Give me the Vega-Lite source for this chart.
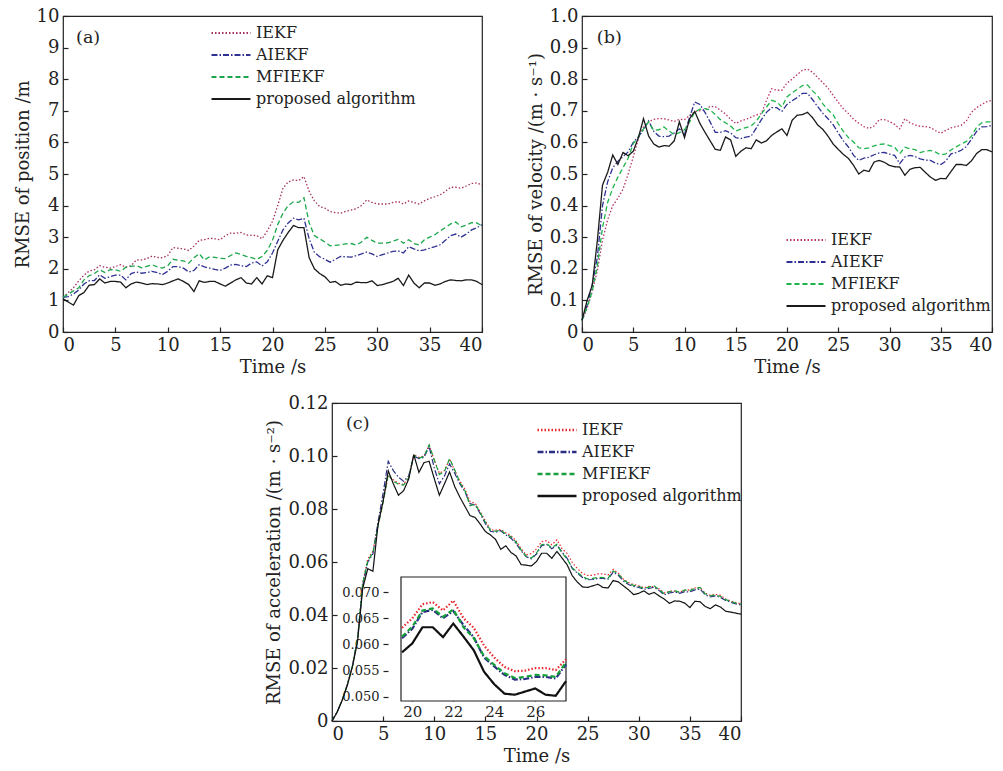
{
  "$schema": "https://vega.github.io/schema/vega-lite/v6.json",
  "background": "white",
  "padding": {"left": 13, "top": 6, "right": 0, "bottom": 0},
  "config": {
    "font": "DejaVu Serif",
    "view": {"stroke": "#222222", "strokeWidth": 1.2},
    "axis": {"grid": false, "domain": false, "labelFont": "DejaVu Serif", "labelFontSize": 18, "labelColor": "#222222", "titleFont": "DejaVu Serif", "titleFontSize": 18, "titleFontWeight": "normal", "titleColor": "#222222", "tickColor": "#222222", "tickSize": -5, "tickWidth": 1.2, "labelPadding": 9, "titlePadding": 4},
    "legend": {"labelFont": "DejaVu Serif", "labelFontSize": 16, "labelColor": "#222222", "symbolType": "M-1,0H5", "symbolSize": 169, "symbolStrokeWidth": 1.8, "labelOffset": 30, "padding": 0, "rowPadding": 6, "labelLimit": 300}
  },
  "datasets": {
    "posA": [
      {"t":0,"IEKF":1.1,"AIEKF":1.1,"MFIEKF":1.1,"PA":1.05},
      {"t":0.5,"IEKF":1.25,"AIEKF":1.12,"MFIEKF":1.2,"PA":0.95},
      {"t":1,"IEKF":1.4,"AIEKF":1.2,"MFIEKF":1.3,"PA":0.85},
      {"t":1.5,"IEKF":1.62,"AIEKF":1.33,"MFIEKF":1.4,"PA":1.15},
      {"t":2,"IEKF":1.8,"AIEKF":1.52,"MFIEKF":1.65,"PA":1.25},
      {"t":2.5,"IEKF":1.93,"AIEKF":1.62,"MFIEKF":1.78,"PA":1.48},
      {"t":3,"IEKF":1.97,"AIEKF":1.63,"MFIEKF":1.85,"PA":1.5},
      {"t":3.5,"IEKF":2.1,"AIEKF":1.81,"MFIEKF":1.97,"PA":1.68},
      {"t":4,"IEKF":2.05,"AIEKF":1.7,"MFIEKF":1.88,"PA":1.55},
      {"t":4.5,"IEKF":2.02,"AIEKF":1.75,"MFIEKF":1.97,"PA":1.6},
      {"t":5,"IEKF":2.07,"AIEKF":1.8,"MFIEKF":1.97,"PA":1.6},
      {"t":5.5,"IEKF":2.13,"AIEKF":1.8,"MFIEKF":1.92,"PA":1.58},
      {"t":6,"IEKF":2.05,"AIEKF":1.65,"MFIEKF":2.05,"PA":1.4},
      {"t":6.5,"IEKF":2.1,"AIEKF":1.85,"MFIEKF":2.08,"PA":1.52},
      {"t":7,"IEKF":2.28,"AIEKF":1.9,"MFIEKF":2.1,"PA":1.58},
      {"t":7.5,"IEKF":2.28,"AIEKF":1.86,"MFIEKF":2.03,"PA":1.55},
      {"t":8,"IEKF":2.32,"AIEKF":1.88,"MFIEKF":2.08,"PA":1.5},
      {"t":8.5,"IEKF":2.4,"AIEKF":1.92,"MFIEKF":2.13,"PA":1.53},
      {"t":9,"IEKF":2.36,"AIEKF":1.88,"MFIEKF":2.06,"PA":1.52},
      {"t":9.5,"IEKF":2.35,"AIEKF":1.82,"MFIEKF":2.02,"PA":1.5},
      {"t":10,"IEKF":2.42,"AIEKF":1.92,"MFIEKF":2.1,"PA":1.55},
      {"t":10.5,"IEKF":2.67,"AIEKF":2.07,"MFIEKF":2.3,"PA":1.62},
      {"t":11,"IEKF":2.65,"AIEKF":2.07,"MFIEKF":2.27,"PA":1.68},
      {"t":11.5,"IEKF":2.63,"AIEKF":2.02,"MFIEKF":2.25,"PA":1.6},
      {"t":12,"IEKF":2.58,"AIEKF":1.9,"MFIEKF":2.18,"PA":1.5},
      {"t":12.5,"IEKF":2.72,"AIEKF":1.95,"MFIEKF":2.35,"PA":1.28},
      {"t":13,"IEKF":2.9,"AIEKF":2.13,"MFIEKF":2.48,"PA":1.62},
      {"t":13.5,"IEKF":2.92,"AIEKF":2.06,"MFIEKF":2.28,"PA":1.57},
      {"t":14,"IEKF":2.97,"AIEKF":2.02,"MFIEKF":2.38,"PA":1.6},
      {"t":14.5,"IEKF":2.95,"AIEKF":1.98,"MFIEKF":2.36,"PA":1.6},
      {"t":15,"IEKF":2.92,"AIEKF":1.95,"MFIEKF":2.33,"PA":1.52},
      {"t":15.5,"IEKF":3.05,"AIEKF":2.02,"MFIEKF":2.32,"PA":1.45},
      {"t":16,"IEKF":3.13,"AIEKF":2.12,"MFIEKF":2.42,"PA":1.55},
      {"t":16.5,"IEKF":3.12,"AIEKF":2.14,"MFIEKF":2.5,"PA":1.65},
      {"t":17,"IEKF":3.15,"AIEKF":2.1,"MFIEKF":2.45,"PA":1.72},
      {"t":17.5,"IEKF":3.07,"AIEKF":2.07,"MFIEKF":2.39,"PA":1.55},
      {"t":18,"IEKF":3.06,"AIEKF":2.18,"MFIEKF":2.35,"PA":1.52},
      {"t":18.5,"IEKF":3.05,"AIEKF":2.22,"MFIEKF":2.3,"PA":1.72},
      {"t":19,"IEKF":2.95,"AIEKF":2.09,"MFIEKF":2.39,"PA":1.52},
      {"t":19.5,"IEKF":3.2,"AIEKF":2.22,"MFIEKF":2.58,"PA":1.78},
      {"t":20,"IEKF":3.5,"AIEKF":2.5,"MFIEKF":2.9,"PA":1.72},
      {"t":20.5,"IEKF":4.0,"AIEKF":2.87,"MFIEKF":3.4,"PA":2.6},
      {"t":21,"IEKF":4.55,"AIEKF":3.23,"MFIEKF":3.76,"PA":2.9},
      {"t":21.5,"IEKF":4.75,"AIEKF":3.45,"MFIEKF":4.0,"PA":3.15},
      {"t":22,"IEKF":4.81,"AIEKF":3.6,"MFIEKF":4.12,"PA":3.37},
      {"t":22.5,"IEKF":4.79,"AIEKF":3.55,"MFIEKF":4.1,"PA":3.3},
      {"t":23,"IEKF":4.92,"AIEKF":3.6,"MFIEKF":4.25,"PA":3.3},
      {"t":23.5,"IEKF":4.45,"AIEKF":2.95,"MFIEKF":3.45,"PA":2.35},
      {"t":24,"IEKF":4.15,"AIEKF":2.52,"MFIEKF":3.05,"PA":2.0},
      {"t":24.5,"IEKF":3.97,"AIEKF":2.38,"MFIEKF":2.95,"PA":1.85},
      {"t":25,"IEKF":3.92,"AIEKF":2.3,"MFIEKF":2.85,"PA":1.75},
      {"t":25.5,"IEKF":3.81,"AIEKF":2.21,"MFIEKF":2.73,"PA":1.57},
      {"t":26,"IEKF":3.78,"AIEKF":2.3,"MFIEKF":2.74,"PA":1.6},
      {"t":26.5,"IEKF":3.76,"AIEKF":2.39,"MFIEKF":2.76,"PA":1.48},
      {"t":27,"IEKF":3.82,"AIEKF":2.38,"MFIEKF":2.79,"PA":1.52},
      {"t":27.5,"IEKF":3.86,"AIEKF":2.37,"MFIEKF":2.8,"PA":1.5},
      {"t":28,"IEKF":3.9,"AIEKF":2.42,"MFIEKF":2.75,"PA":1.58},
      {"t":28.5,"IEKF":4.0,"AIEKF":2.47,"MFIEKF":2.85,"PA":1.56},
      {"t":29,"IEKF":4.18,"AIEKF":2.53,"MFIEKF":3.0,"PA":1.56},
      {"t":29.5,"IEKF":4.1,"AIEKF":2.47,"MFIEKF":2.9,"PA":1.62},
      {"t":30,"IEKF":4.05,"AIEKF":2.39,"MFIEKF":2.81,"PA":1.47},
      {"t":30.5,"IEKF":4.05,"AIEKF":2.45,"MFIEKF":2.81,"PA":1.5},
      {"t":31,"IEKF":4.05,"AIEKF":2.5,"MFIEKF":2.82,"PA":1.55},
      {"t":31.5,"IEKF":4.1,"AIEKF":2.55,"MFIEKF":2.88,"PA":1.6},
      {"t":32,"IEKF":4.13,"AIEKF":2.57,"MFIEKF":2.93,"PA":1.7},
      {"t":32.5,"IEKF":4.05,"AIEKF":2.5,"MFIEKF":2.81,"PA":1.47},
      {"t":33,"IEKF":4.15,"AIEKF":2.7,"MFIEKF":2.92,"PA":1.8},
      {"t":33.5,"IEKF":4.1,"AIEKF":2.63,"MFIEKF":2.8,"PA":1.55},
      {"t":34,"IEKF":4.05,"AIEKF":2.57,"MFIEKF":2.75,"PA":1.4},
      {"t":34.5,"IEKF":4.15,"AIEKF":2.6,"MFIEKF":2.92,"PA":1.55},
      {"t":35,"IEKF":4.23,"AIEKF":2.65,"MFIEKF":3.0,"PA":1.55},
      {"t":35.5,"IEKF":4.28,"AIEKF":2.7,"MFIEKF":3.08,"PA":1.48},
      {"t":36,"IEKF":4.34,"AIEKF":2.76,"MFIEKF":3.2,"PA":1.52},
      {"t":36.5,"IEKF":4.45,"AIEKF":2.9,"MFIEKF":3.3,"PA":1.6},
      {"t":37,"IEKF":4.58,"AIEKF":3.05,"MFIEKF":3.42,"PA":1.65},
      {"t":37.5,"IEKF":4.58,"AIEKF":3.1,"MFIEKF":3.48,"PA":1.63},
      {"t":38,"IEKF":4.55,"AIEKF":3.0,"MFIEKF":3.33,"PA":1.62},
      {"t":38.5,"IEKF":4.62,"AIEKF":3.1,"MFIEKF":3.38,"PA":1.65},
      {"t":39,"IEKF":4.7,"AIEKF":3.23,"MFIEKF":3.46,"PA":1.65},
      {"t":39.5,"IEKF":4.72,"AIEKF":3.3,"MFIEKF":3.45,"PA":1.6},
      {"t":40,"IEKF":4.65,"AIEKF":3.39,"MFIEKF":3.36,"PA":1.5}
    ],
    "velB": [
      {"t":0,"IEKF":0.037,"AIEKF":0.037,"MFIEKF":0.037,"PA":0.037},
      {"t":0.5,"IEKF":0.075,"AIEKF":0.085,"MFIEKF":0.078,"PA":0.1},
      {"t":1,"IEKF":0.128,"AIEKF":0.15,"MFIEKF":0.13,"PA":0.148},
      {"t":1.5,"IEKF":0.195,"AIEKF":0.237,"MFIEKF":0.21,"PA":0.29},
      {"t":2,"IEKF":0.29,"AIEKF":0.4,"MFIEKF":0.33,"PA":0.465},
      {"t":2.5,"IEKF":0.355,"AIEKF":0.475,"MFIEKF":0.41,"PA":0.505},
      {"t":3,"IEKF":0.4,"AIEKF":0.52,"MFIEKF":0.455,"PA":0.56},
      {"t":3.5,"IEKF":0.423,"AIEKF":0.54,"MFIEKF":0.49,"PA":0.53},
      {"t":4,"IEKF":0.452,"AIEKF":0.555,"MFIEKF":0.52,"PA":0.568},
      {"t":4.5,"IEKF":0.5,"AIEKF":0.57,"MFIEKF":0.55,"PA":0.558},
      {"t":5,"IEKF":0.554,"AIEKF":0.6,"MFIEKF":0.596,"PA":0.572},
      {"t":5.5,"IEKF":0.612,"AIEKF":0.618,"MFIEKF":0.617,"PA":0.615},
      {"t":6,"IEKF":0.649,"AIEKF":0.64,"MFIEKF":0.643,"PA":0.675},
      {"t":6.5,"IEKF":0.665,"AIEKF":0.668,"MFIEKF":0.665,"PA":0.62},
      {"t":7,"IEKF":0.673,"AIEKF":0.635,"MFIEKF":0.638,"PA":0.595},
      {"t":7.5,"IEKF":0.675,"AIEKF":0.62,"MFIEKF":0.64,"PA":0.585},
      {"t":8,"IEKF":0.675,"AIEKF":0.618,"MFIEKF":0.649,"PA":0.59},
      {"t":8.5,"IEKF":0.671,"AIEKF":0.62,"MFIEKF":0.636,"PA":0.588},
      {"t":9,"IEKF":0.666,"AIEKF":0.63,"MFIEKF":0.624,"PA":0.605},
      {"t":9.5,"IEKF":0.673,"AIEKF":0.643,"MFIEKF":0.631,"PA":0.665},
      {"t":10,"IEKF":0.672,"AIEKF":0.625,"MFIEKF":0.64,"PA":0.615},
      {"t":10.5,"IEKF":0.685,"AIEKF":0.68,"MFIEKF":0.665,"PA":0.675},
      {"t":11,"IEKF":0.697,"AIEKF":0.728,"MFIEKF":0.696,"PA":0.698},
      {"t":11.5,"IEKF":0.7,"AIEKF":0.72,"MFIEKF":0.705,"PA":0.66},
      {"t":12,"IEKF":0.702,"AIEKF":0.695,"MFIEKF":0.707,"PA":0.632},
      {"t":12.5,"IEKF":0.714,"AIEKF":0.665,"MFIEKF":0.703,"PA":0.605},
      {"t":13,"IEKF":0.713,"AIEKF":0.632,"MFIEKF":0.688,"PA":0.578},
      {"t":13.5,"IEKF":0.702,"AIEKF":0.632,"MFIEKF":0.672,"PA":0.575},
      {"t":14,"IEKF":0.69,"AIEKF":0.637,"MFIEKF":0.662,"PA":0.617},
      {"t":14.5,"IEKF":0.673,"AIEKF":0.63,"MFIEKF":0.652,"PA":0.608},
      {"t":15,"IEKF":0.66,"AIEKF":0.615,"MFIEKF":0.636,"PA":0.556},
      {"t":15.5,"IEKF":0.668,"AIEKF":0.612,"MFIEKF":0.642,"PA":0.572},
      {"t":16,"IEKF":0.673,"AIEKF":0.617,"MFIEKF":0.647,"PA":0.583},
      {"t":16.5,"IEKF":0.68,"AIEKF":0.62,"MFIEKF":0.652,"PA":0.58},
      {"t":17,"IEKF":0.687,"AIEKF":0.645,"MFIEKF":0.667,"PA":0.608},
      {"t":17.5,"IEKF":0.691,"AIEKF":0.672,"MFIEKF":0.69,"PA":0.598},
      {"t":18,"IEKF":0.733,"AIEKF":0.695,"MFIEKF":0.712,"PA":0.605},
      {"t":18.5,"IEKF":0.77,"AIEKF":0.71,"MFIEKF":0.733,"PA":0.622},
      {"t":19,"IEKF":0.765,"AIEKF":0.71,"MFIEKF":0.728,"PA":0.633},
      {"t":19.5,"IEKF":0.765,"AIEKF":0.698,"MFIEKF":0.712,"PA":0.643},
      {"t":20,"IEKF":0.788,"AIEKF":0.72,"MFIEKF":0.744,"PA":0.622},
      {"t":20.5,"IEKF":0.8,"AIEKF":0.732,"MFIEKF":0.757,"PA":0.67},
      {"t":21,"IEKF":0.815,"AIEKF":0.742,"MFIEKF":0.768,"PA":0.686},
      {"t":21.5,"IEKF":0.828,"AIEKF":0.755,"MFIEKF":0.78,"PA":0.688},
      {"t":22,"IEKF":0.832,"AIEKF":0.755,"MFIEKF":0.782,"PA":0.695},
      {"t":22.5,"IEKF":0.822,"AIEKF":0.735,"MFIEKF":0.763,"PA":0.678},
      {"t":23,"IEKF":0.805,"AIEKF":0.713,"MFIEKF":0.747,"PA":0.655},
      {"t":23.5,"IEKF":0.789,"AIEKF":0.692,"MFIEKF":0.722,"PA":0.641},
      {"t":24,"IEKF":0.772,"AIEKF":0.675,"MFIEKF":0.703,"PA":0.62},
      {"t":24.5,"IEKF":0.749,"AIEKF":0.656,"MFIEKF":0.688,"PA":0.595},
      {"t":25,"IEKF":0.727,"AIEKF":0.63,"MFIEKF":0.659,"PA":0.578},
      {"t":25.5,"IEKF":0.706,"AIEKF":0.605,"MFIEKF":0.635,"PA":0.562},
      {"t":26,"IEKF":0.691,"AIEKF":0.585,"MFIEKF":0.615,"PA":0.549},
      {"t":26.5,"IEKF":0.673,"AIEKF":0.559,"MFIEKF":0.601,"PA":0.527},
      {"t":27,"IEKF":0.661,"AIEKF":0.543,"MFIEKF":0.583,"PA":0.5},
      {"t":27.5,"IEKF":0.65,"AIEKF":0.55,"MFIEKF":0.58,"PA":0.512},
      {"t":28,"IEKF":0.644,"AIEKF":0.553,"MFIEKF":0.583,"PA":0.508},
      {"t":28.5,"IEKF":0.652,"AIEKF":0.561,"MFIEKF":0.589,"PA":0.538},
      {"t":29,"IEKF":0.672,"AIEKF":0.567,"MFIEKF":0.594,"PA":0.543},
      {"t":29.5,"IEKF":0.672,"AIEKF":0.568,"MFIEKF":0.595,"PA":0.537},
      {"t":30,"IEKF":0.666,"AIEKF":0.563,"MFIEKF":0.59,"PA":0.527},
      {"t":30.5,"IEKF":0.657,"AIEKF":0.559,"MFIEKF":0.585,"PA":0.523},
      {"t":31,"IEKF":0.643,"AIEKF":0.533,"MFIEKF":0.564,"PA":0.522},
      {"t":31.5,"IEKF":0.675,"AIEKF":0.554,"MFIEKF":0.585,"PA":0.496},
      {"t":32,"IEKF":0.662,"AIEKF":0.559,"MFIEKF":0.58,"PA":0.515},
      {"t":32.5,"IEKF":0.655,"AIEKF":0.555,"MFIEKF":0.577,"PA":0.52},
      {"t":33,"IEKF":0.651,"AIEKF":0.548,"MFIEKF":0.568,"PA":0.521},
      {"t":33.5,"IEKF":0.65,"AIEKF":0.544,"MFIEKF":0.572,"PA":0.505},
      {"t":34,"IEKF":0.647,"AIEKF":0.543,"MFIEKF":0.575,"PA":0.49},
      {"t":34.5,"IEKF":0.637,"AIEKF":0.534,"MFIEKF":0.569,"PA":0.48},
      {"t":35,"IEKF":0.629,"AIEKF":0.53,"MFIEKF":0.56,"PA":0.486},
      {"t":35.5,"IEKF":0.638,"AIEKF":0.541,"MFIEKF":0.564,"PA":0.485},
      {"t":36,"IEKF":0.646,"AIEKF":0.564,"MFIEKF":0.576,"PA":0.508},
      {"t":36.5,"IEKF":0.65,"AIEKF":0.568,"MFIEKF":0.586,"PA":0.53},
      {"t":37,"IEKF":0.654,"AIEKF":0.575,"MFIEKF":0.595,"PA":0.53},
      {"t":37.5,"IEKF":0.668,"AIEKF":0.587,"MFIEKF":0.603,"PA":0.527},
      {"t":38,"IEKF":0.695,"AIEKF":0.61,"MFIEKF":0.62,"PA":0.542},
      {"t":38.5,"IEKF":0.71,"AIEKF":0.635,"MFIEKF":0.648,"PA":0.565},
      {"t":39,"IEKF":0.72,"AIEKF":0.649,"MFIEKF":0.662,"PA":0.577},
      {"t":39.5,"IEKF":0.729,"AIEKF":0.65,"MFIEKF":0.665,"PA":0.577},
      {"t":40,"IEKF":0.733,"AIEKF":0.654,"MFIEKF":0.665,"PA":0.57}
    ],
    "accC": [
      {"t":0,"IEKF":0,"AIEKF":0,"MFIEKF":0,"PA":0},
      {"t":0.5,"IEKF":0.0034,"AIEKF":0.0034,"MFIEKF":0.0034,"PA":0.0033},
      {"t":1,"IEKF":0.008,"AIEKF":0.008,"MFIEKF":0.008,"PA":0.0078},
      {"t":1.5,"IEKF":0.0138,"AIEKF":0.0137,"MFIEKF":0.0137,"PA":0.0135},
      {"t":2,"IEKF":0.021,"AIEKF":0.0208,"MFIEKF":0.0208,"PA":0.0205},
      {"t":2.5,"IEKF":0.031,"AIEKF":0.031,"MFIEKF":0.031,"PA":0.03},
      {"t":3,"IEKF":0.052,"AIEKF":0.051,"MFIEKF":0.052,"PA":0.05},
      {"t":3.5,"IEKF":0.0612,"AIEKF":0.06,"MFIEKF":0.0605,"PA":0.0575},
      {"t":4,"IEKF":0.064,"AIEKF":0.063,"MFIEKF":0.0635,"PA":0.0565},
      {"t":4.5,"IEKF":0.074,"AIEKF":0.075,"MFIEKF":0.0735,"PA":0.074},
      {"t":5,"IEKF":0.083,"AIEKF":0.086,"MFIEKF":0.0825,"PA":0.083},
      {"t":5.5,"IEKF":0.0925,"AIEKF":0.098,"MFIEKF":0.093,"PA":0.0944},
      {"t":6,"IEKF":0.091,"AIEKF":0.0945,"MFIEKF":0.0905,"PA":0.0895},
      {"t":6.5,"IEKF":0.0897,"AIEKF":0.092,"MFIEKF":0.0893,"PA":0.0852},
      {"t":7,"IEKF":0.0893,"AIEKF":0.0905,"MFIEKF":0.089,"PA":0.0869},
      {"t":7.5,"IEKF":0.092,"AIEKF":0.0925,"MFIEKF":0.0918,"PA":0.0913},
      {"t":8,"IEKF":0.1005,"AIEKF":0.1,"MFIEKF":0.1003,"PA":0.1005},
      {"t":8.5,"IEKF":0.0995,"AIEKF":0.099,"MFIEKF":0.0992,"PA":0.0938},
      {"t":9,"IEKF":0.1,"AIEKF":0.0995,"MFIEKF":0.0998,"PA":0.0975},
      {"t":9.5,"IEKF":0.104,"AIEKF":0.1035,"MFIEKF":0.1042,"PA":0.098},
      {"t":10,"IEKF":0.0985,"AIEKF":0.0955,"MFIEKF":0.0985,"PA":0.0915},
      {"t":10.5,"IEKF":0.0935,"AIEKF":0.0895,"MFIEKF":0.093,"PA":0.0852},
      {"t":11,"IEKF":0.0945,"AIEKF":0.0925,"MFIEKF":0.0942,"PA":0.0895},
      {"t":11.5,"IEKF":0.0988,"AIEKF":0.097,"MFIEKF":0.099,"PA":0.094},
      {"t":12,"IEKF":0.0945,"AIEKF":0.0935,"MFIEKF":0.0948,"PA":0.0885},
      {"t":12.5,"IEKF":0.0905,"AIEKF":0.0895,"MFIEKF":0.09,"PA":0.0845},
      {"t":13,"IEKF":0.0875,"AIEKF":0.0865,"MFIEKF":0.087,"PA":0.081},
      {"t":13.5,"IEKF":0.0828,"AIEKF":0.082,"MFIEKF":0.0812,"PA":0.0775},
      {"t":14,"IEKF":0.0822,"AIEKF":0.0815,"MFIEKF":0.0818,"PA":0.0768},
      {"t":14.5,"IEKF":0.079,"AIEKF":0.0782,"MFIEKF":0.0785,"PA":0.0743},
      {"t":15,"IEKF":0.0755,"AIEKF":0.0745,"MFIEKF":0.075,"PA":0.0715},
      {"t":15.5,"IEKF":0.0722,"AIEKF":0.0716,"MFIEKF":0.072,"PA":0.0702},
      {"t":16,"IEKF":0.072,"AIEKF":0.0712,"MFIEKF":0.0716,"PA":0.0685},
      {"t":16.5,"IEKF":0.0722,"AIEKF":0.0718,"MFIEKF":0.072,"PA":0.0648},
      {"t":17,"IEKF":0.071,"AIEKF":0.0702,"MFIEKF":0.0705,"PA":0.0661},
      {"t":17.5,"IEKF":0.07,"AIEKF":0.069,"MFIEKF":0.0695,"PA":0.0636},
      {"t":18,"IEKF":0.068,"AIEKF":0.067,"MFIEKF":0.0675,"PA":0.0623},
      {"t":18.5,"IEKF":0.065,"AIEKF":0.0642,"MFIEKF":0.0645,"PA":0.059},
      {"t":19,"IEKF":0.0627,"AIEKF":0.062,"MFIEKF":0.0622,"PA":0.0588},
      {"t":19.5,"IEKF":0.0632,"AIEKF":0.0612,"MFIEKF":0.0615,"PA":0.0585},
      {"t":20,"IEKF":0.065,"AIEKF":0.063,"MFIEKF":0.0634,"PA":0.0602},
      {"t":20.5,"IEKF":0.0677,"AIEKF":0.0662,"MFIEKF":0.0665,"PA":0.0633},
      {"t":21,"IEKF":0.0681,"AIEKF":0.0666,"MFIEKF":0.0669,"PA":0.0633},
      {"t":21.5,"IEKF":0.0665,"AIEKF":0.065,"MFIEKF":0.0653,"PA":0.0614},
      {"t":22,"IEKF":0.0684,"AIEKF":0.0664,"MFIEKF":0.0667,"PA":0.064},
      {"t":22.5,"IEKF":0.065,"AIEKF":0.0637,"MFIEKF":0.0633,"PA":0.0615},
      {"t":23,"IEKF":0.0632,"AIEKF":0.0614,"MFIEKF":0.0612,"PA":0.0589},
      {"t":23.5,"IEKF":0.0598,"AIEKF":0.0575,"MFIEKF":0.0578,"PA":0.0548},
      {"t":24,"IEKF":0.0575,"AIEKF":0.0558,"MFIEKF":0.0561,"PA":0.0524},
      {"t":24.5,"IEKF":0.0557,"AIEKF":0.0542,"MFIEKF":0.0545,"PA":0.0506},
      {"t":25,"IEKF":0.0549,"AIEKF":0.0533,"MFIEKF":0.0536,"PA":0.0504},
      {"t":25.5,"IEKF":0.055,"AIEKF":0.0534,"MFIEKF":0.0538,"PA":0.051},
      {"t":26,"IEKF":0.0555,"AIEKF":0.0538,"MFIEKF":0.0542,"PA":0.0516},
      {"t":26.5,"IEKF":0.0555,"AIEKF":0.0538,"MFIEKF":0.0541,"PA":0.0504},
      {"t":27,"IEKF":0.0551,"AIEKF":0.0535,"MFIEKF":0.0538,"PA":0.0502},
      {"t":27.5,"IEKF":0.0572,"AIEKF":0.0562,"MFIEKF":0.0566,"PA":0.053},
      {"t":28,"IEKF":0.0558,"AIEKF":0.055,"MFIEKF":0.0555,"PA":0.0525},
      {"t":28.5,"IEKF":0.0535,"AIEKF":0.0528,"MFIEKF":0.0532,"PA":0.051},
      {"t":29,"IEKF":0.0522,"AIEKF":0.0515,"MFIEKF":0.052,"PA":0.0495},
      {"t":29.5,"IEKF":0.0515,"AIEKF":0.0508,"MFIEKF":0.0512,"PA":0.0477},
      {"t":30,"IEKF":0.051,"AIEKF":0.0504,"MFIEKF":0.0508,"PA":0.0482},
      {"t":30.5,"IEKF":0.0503,"AIEKF":0.0497,"MFIEKF":0.05,"PA":0.0491},
      {"t":31,"IEKF":0.0508,"AIEKF":0.05,"MFIEKF":0.0505,"PA":0.0478},
      {"t":31.5,"IEKF":0.0507,"AIEKF":0.0505,"MFIEKF":0.051,"PA":0.0485},
      {"t":32,"IEKF":0.0498,"AIEKF":0.0492,"MFIEKF":0.0496,"PA":0.0472},
      {"t":32.5,"IEKF":0.0483,"AIEKF":0.0476,"MFIEKF":0.048,"PA":0.046},
      {"t":33,"IEKF":0.049,"AIEKF":0.0483,"MFIEKF":0.0488,"PA":0.0444},
      {"t":33.5,"IEKF":0.049,"AIEKF":0.0487,"MFIEKF":0.0492,"PA":0.0453},
      {"t":34,"IEKF":0.0487,"AIEKF":0.0482,"MFIEKF":0.0485,"PA":0.0452},
      {"t":34.5,"IEKF":0.0492,"AIEKF":0.0488,"MFIEKF":0.0495,"PA":0.0445},
      {"t":35,"IEKF":0.0495,"AIEKF":0.0487,"MFIEKF":0.0492,"PA":0.0428},
      {"t":35.5,"IEKF":0.0502,"AIEKF":0.0495,"MFIEKF":0.05,"PA":0.0452},
      {"t":36,"IEKF":0.0503,"AIEKF":0.0498,"MFIEKF":0.0504,"PA":0.045},
      {"t":36.5,"IEKF":0.0482,"AIEKF":0.0476,"MFIEKF":0.048,"PA":0.0432},
      {"t":37,"IEKF":0.0474,"AIEKF":0.0468,"MFIEKF":0.0472,"PA":0.0424},
      {"t":37.5,"IEKF":0.0478,"AIEKF":0.0472,"MFIEKF":0.0476,"PA":0.0438},
      {"t":38,"IEKF":0.0474,"AIEKF":0.0466,"MFIEKF":0.047,"PA":0.043},
      {"t":38.5,"IEKF":0.046,"AIEKF":0.0455,"MFIEKF":0.0458,"PA":0.0414},
      {"t":39,"IEKF":0.0453,"AIEKF":0.0448,"MFIEKF":0.0451,"PA":0.0411},
      {"t":39.5,"IEKF":0.0447,"AIEKF":0.0442,"MFIEKF":0.0445,"PA":0.0407},
      {"t":40,"IEKF":0.0442,"AIEKF":0.0438,"MFIEKF":0.0441,"PA":0.0403}
    ],
    "one": [{}],
    "none": []
  },
  "spacing": 16,
  "resolve": {"scale": {"color": "independent", "strokeDash": "independent"}, "legend": {"color": "independent", "strokeDash": "independent"}},
  "vconcat": [
    {
      "hconcat": [
        {
          "width": 419, "height": 316,
          "layer": [
            {
              "data": {"name": "posA"},
              "transform": [{"fold": ["IEKF", "AIEKF", "MFIEKF", "PA"], "as": ["series", "v"]}],
              "mark": {"type": "line", "strokeWidth": 1.3},
              "encoding": {
                "x": {"field": "t", "type": "quantitative", "scale": {"domain": [0, 40], "nice": false}, "axis": {"values": [0, 5, 10, 15, 20, 25, 30, 35, 40], "title": "Time /s"}},
                "y": {"field": "v", "type": "quantitative", "scale": {"domain": [0, 10], "nice": false}, "axis": {"values": [0, 1, 2, 3, 4, 5, 6, 7, 8, 9, 10], "title": "RMSE of position /m"}},
                "color": {"field": "series", "type": "nominal", "scale": {"domain": ["IEKF", "AIEKF", "MFIEKF", "PA"], "range": ["#a3305f", "#2e3192", "#1aa64a", "#1a1a1a"]}, "legend": {"title": null, "orient": "none", "legendX": 147, "legendY": 9, "labelExpr": "datum.label == 'PA' ? 'proposed algorithm' : datum.label"}},
                "strokeDash": {"field": "series", "type": "nominal", "scale": {"domain": ["IEKF", "AIEKF", "MFIEKF", "PA"], "range": [[1.5, 2], [6, 2, 1.5, 2], [5, 3], [1, 0]]}, "legend": {"title": null, "orient": "none", "legendX": 147, "legendY": 9, "labelExpr": "datum.label == 'PA' ? 'proposed algorithm' : datum.label"}}
              }
            },
            {
              "data": {"name": "one"},
              "mark": {"type": "text", "align": "left", "baseline": "middle", "font": "DejaVu Serif", "fontSize": 17.5, "color": "#222222"},
              "encoding": {
                "x": {"datum": 1.25, "type": "quantitative", "scale": {"domain": [0, 40], "nice": false}, "axis": {"values": [0, 5, 10, 15, 20, 25, 30, 35, 40], "title": "Time /s"}},
                "y": {"datum": 9.3, "type": "quantitative", "scale": {"domain": [0, 10], "nice": false}, "axis": {"values": [0, 1, 2, 3, 4, 5, 6, 7, 8, 9, 10], "title": "RMSE of position /m"}},
                "text": {"value": "(a)"}
              }
            }
          ]
        },
        {
          "width": 410, "height": 316,
          "layer": [
            {
              "data": {"name": "velB"},
              "transform": [{"fold": ["IEKF", "AIEKF", "MFIEKF", "PA"], "as": ["series", "v"]}],
              "mark": {"type": "line", "strokeWidth": 1.3},
              "encoding": {
                "x": {"field": "t", "type": "quantitative", "scale": {"domain": [0, 40], "nice": false}, "axis": {"values": [0, 5, 10, 15, 20, 25, 30, 35, 40], "title": "Time /s"}},
                "y": {"field": "v", "type": "quantitative", "scale": {"domain": [0, 1], "nice": false}, "axis": {"values": [0, 0.1, 0.2, 0.3, 0.4, 0.5, 0.6, 0.7, 0.8, 0.9, 1.0], "labelExpr": "datum.value == 0 ? '0' : format(datum.value, '.1f')", "title": "RMSE of velocity /(m · s⁻¹)"}},
                "color": {"field": "series", "type": "nominal", "scale": {"domain": ["IEKF", "AIEKF", "MFIEKF", "PA"], "range": ["#b8336a", "#2e3192", "#1db34a", "#1a1a1a"]}, "legend": {"title": null, "orient": "none", "legendX": 203, "legendY": 216, "labelExpr": "datum.label == 'PA' ? 'proposed algorithm' : datum.label"}},
                "strokeDash": {"field": "series", "type": "nominal", "scale": {"domain": ["IEKF", "AIEKF", "MFIEKF", "PA"], "range": [[1.5, 2], [6, 2, 1.5, 2], [5, 3], [1, 0]]}, "legend": {"title": null, "orient": "none", "legendX": 203, "legendY": 216, "labelExpr": "datum.label == 'PA' ? 'proposed algorithm' : datum.label"}}
              }
            },
            {
              "data": {"name": "one"},
              "mark": {"type": "text", "align": "left", "baseline": "middle", "font": "DejaVu Serif", "fontSize": 17.5, "color": "#222222"},
              "encoding": {
                "x": {"datum": 1.45, "type": "quantitative", "scale": {"domain": [0, 40], "nice": false}, "axis": {"values": [0, 5, 10, 15, 20, 25, 30, 35, 40], "title": "Time /s"}},
                "y": {"datum": 0.93, "type": "quantitative", "scale": {"domain": [0, 1], "nice": false}, "axis": {"values": [0, 0.1, 0.2, 0.3, 0.4, 0.5, 0.6, 0.7, 0.8, 0.9, 1.0], "labelExpr": "datum.value == 0 ? '0' : format(datum.value, '.1f')", "title": "RMSE of velocity /(m · s⁻¹)"}},
                "text": {"value": "(b)"}
              }
            }
          ]
        }
      ],
      "spacing": 40,
      "resolve": {"scale": {"color": "independent", "strokeDash": "independent"}, "legend": {"color": "independent", "strokeDash": "independent"}}
    },
    {
      "hconcat": [
        {
          "width": 10, "height": 10,
          "data": {"name": "none"},
          "mark": {"type": "point", "opacity": 0},
          "view": {"stroke": null}
        },
        {
          "width": 409, "height": 318,
          "layer": [
            {
              "layer": [
                {
                  "data": {"name": "accC"},
                  "transform": [{"fold": ["IEKF", "AIEKF", "MFIEKF", "PA"], "as": ["series", "v"]}],
                  "mark": {"type": "line", "strokeWidth": 1.2},
                  "encoding": {
                    "x": {"field": "t", "type": "quantitative", "scale": {"domain": [0, 40], "nice": false}, "axis": {"orient": "bottom", "values": [0, 5, 10, 15, 20, 25, 30, 35, 40], "title": "Time /s"}},
                    "y": {"field": "v", "type": "quantitative", "scale": {"domain": [0, 0.12], "nice": false}, "axis": {"orient": "left", "values": [0, 0.02, 0.04, 0.06, 0.08, 0.1, 0.12], "labelExpr": "datum.value == 0 ? '0' : format(datum.value, '.2f')", "title": "RMSE of acceleration /(m · s⁻²)"}},
                    "color": {"field": "series", "type": "nominal", "scale": {"domain": ["IEKF", "AIEKF", "MFIEKF", "PA"], "range": ["#e8262d", "#2b2e83", "#15a03c", "#111111"]}, "legend": {"title": null, "orient": "none", "legendX": 204, "legendY": 19, "symbolStrokeWidth": 2.4, "labelExpr": "datum.label == 'PA' ? 'proposed algorithm' : datum.label"}},
                    "strokeDash": {"field": "series", "type": "nominal", "scale": {"domain": ["IEKF", "AIEKF", "MFIEKF", "PA"], "range": [[1.5, 2], [6, 2, 1.5, 2], [5, 3], [1, 0]]}, "legend": {"title": null, "orient": "none", "legendX": 204, "legendY": 19, "symbolStrokeWidth": 2.4, "labelExpr": "datum.label == 'PA' ? 'proposed algorithm' : datum.label"}}
                  }
                },
                {
                  "data": {"name": "one"},
                  "mark": {"type": "text", "align": "left", "baseline": "middle", "font": "DejaVu Serif", "fontSize": 17.5, "color": "#222222"},
                  "encoding": {
                    "x": {"datum": 1.37, "type": "quantitative", "scale": {"domain": [0, 40], "nice": false}, "axis": {"orient": "bottom", "values": [0, 5, 10, 15, 20, 25, 30, 35, 40], "title": "Time /s"}},
                    "y": {"datum": 0.112, "type": "quantitative", "scale": {"domain": [0, 0.12], "nice": false}, "axis": {"orient": "left", "values": [0, 0.02, 0.04, 0.06, 0.08, 0.1, 0.12], "labelExpr": "datum.value == 0 ? '0' : format(datum.value, '.2f')", "title": "RMSE of acceleration /(m · s⁻²)"}},
                    "text": {"value": "(c)"}
                  }
                }
              ]
            },
            {
              "layer": [
                {
                  "data": {"name": "one"},
                  "mark": {"type": "rect", "fill": "white", "stroke": "#222222", "strokeWidth": 1.2},
                  "encoding": {
                    "x": {"datum": 19.45, "type": "quantitative", "scale": {"domain": [19.45, 27.5], "range": [69, 234], "nice": false, "zero": false}, "axis": {"orient": "bottom", "offset": -20, "values": [20, 22, 24, 26], "title": null, "labelFontSize": 15, "labelPadding": 8}},
                    "x2": {"datum": 27.5},
                    "y": {"datum": 0.0492, "type": "quantitative", "scale": {"domain": [0.0492, 0.0729], "range": [298, 174], "nice": false, "zero": false}, "axis": {"orient": "left", "offset": -51, "values": [0.05, 0.055, 0.06, 0.065, 0.07], "format": ".3f", "title": null, "labelFontSize": 13, "labelPadding": 9}},
                    "y2": {"datum": 0.0729}
                  }
                },
                {
                  "data": {"name": "accC"},
                  "transform": [{"filter": "datum.t >= 19.5 && datum.t <= 27.5"}, {"fold": ["IEKF", "AIEKF", "MFIEKF", "PA"], "as": ["series", "v"]}],
                  "mark": {"type": "line", "strokeWidth": 2.2},
                  "encoding": {
                    "x": {"field": "t", "type": "quantitative", "scale": {"domain": [19.45, 27.5], "range": [69, 234], "nice": false, "zero": false}, "axis": {"orient": "bottom", "offset": -20, "values": [20, 22, 24, 26], "title": null, "labelFontSize": 15, "labelPadding": 8}},
                    "y": {"field": "v", "type": "quantitative", "scale": {"domain": [0.0492, 0.0729], "range": [298, 174], "nice": false, "zero": false}, "axis": {"orient": "left", "offset": -51, "values": [0.05, 0.055, 0.06, 0.065, 0.07], "format": ".3f", "title": null, "labelFontSize": 13, "labelPadding": 9}},
                    "color": {"field": "series", "type": "nominal", "legend": null},
                    "strokeDash": {"field": "series", "type": "nominal", "legend": null}
                  }
                }
              ]
            }
          ],
          "resolve": {"scale": {"x": "independent", "y": "independent"}, "axis": {"x": "independent", "y": "independent"}}
        }
      ],
      "spacing": 192,
      "resolve": {"scale": {"color": "independent", "strokeDash": "independent"}, "legend": {"color": "independent", "strokeDash": "independent"}}
    }
  ]
}
